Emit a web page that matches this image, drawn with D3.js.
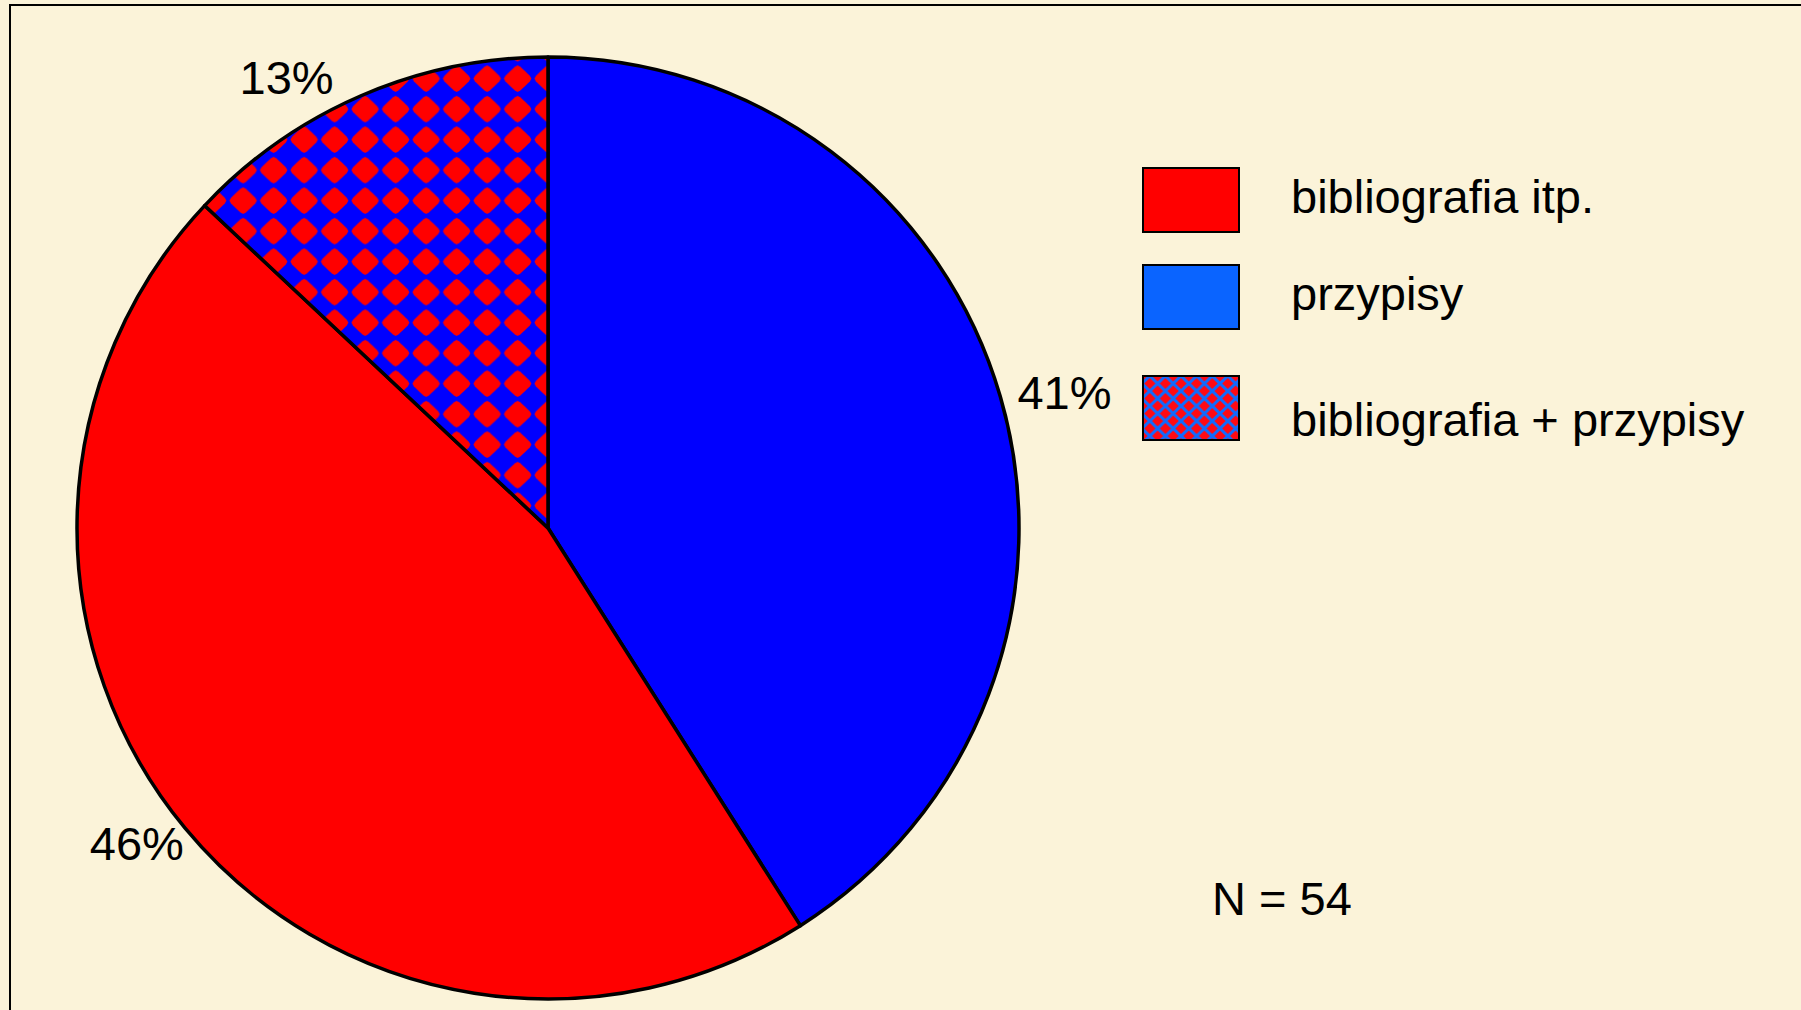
<!DOCTYPE html>
<html><head><meta charset="utf-8">
<script src="https://cdn.jsdelivr.net/npm/d3@7"></script>
<style>html,body{margin:0;padding:0;background:#FBF3D9;overflow:hidden}</style>
</head><body>
<svg id="chart" width="1801" height="1010"></svg>
<script>
// Data
const categories = ["bibliografia itp.", "przypisy", "bibliografia + przypisy"];
const percents = [46, 41, 13];
const pieOrder = ["przypisy", "bibliografia itp.", "bibliografia + przypisy"];
const sampleSize = 54;

const svg = d3.select("#chart");
const W = 1801, H = 1010;
svg.append("rect").attr("width", W).attr("height", H).attr("fill", "#FBF3D9");
svg.append("rect").attr("x", 10).attr("y", 5).attr("width", W + 20).attr("height", H + 20)
  .attr("fill", "none").attr("stroke", "#000").attr("stroke-width", 2);

const defs = svg.append("defs");
// pie pattern
const pw = 30.5;
const pp = defs.append("pattern").attr("id", "patPie").attr("patternUnits", "userSpaceOnUse")
  .attr("x", 15.4).attr("y", 23.4).attr("width", pw).attr("height", pw);
pp.append("rect").attr("width", pw).attr("height", pw).attr("fill", "#0000FF");
pp.append("path").attr("d", "M15.25,2 L18,3.5 L23,8 L27.5,12.5 L29,15.25 L27.5,18 L23,22.5 L18,27 L15.25,28.5 L12.5,27 L7.5,22.5 L3,18 L1.5,15.25 L3,12.5 L7.5,8 L12.5,3.5 Z").attr("fill", "#FF0000");
// legend pattern
const lw = 15.6, lh = 15, hd = 5.6;
const lp = defs.append("pattern").attr("id", "patLeg").attr("patternUnits", "userSpaceOnUse")
  .attr("x", 1142).attr("y", 376).attr("width", lw).attr("height", lh);
lp.append("rect").attr("width", lw).attr("height", lh).attr("fill", "#0F6BFF");
[[lw/2,lh/2],[0,0],[lw,0],[0,lh],[lw,lh]].forEach(([x,y]) => {
  lp.append("path").attr("d", `M${x},${y-hd} L${x+hd},${y} L${x},${y+hd} L${x-hd},${y} Z`).attr("fill", "#FF0A14");
});

const pieFill = { "przypisy": "#0000FF", "bibliografia itp.": "#FF0000", "bibliografia + przypisy": "url(#patPie)" };
const legFill = { "przypisy": "#0A64FF", "bibliografia itp.": "#FF0000", "bibliografia + przypisy": "url(#patLeg)" };

const cx = 548, cy = 528, R = 471;
const pieData = pieOrder.map(c => ({ cat: c, value: percents[categories.indexOf(c)] }));
const pie = d3.pie().sort(null).value(d => d.value);
const arcs = pie(pieData);
const arc = d3.arc().innerRadius(0).outerRadius(R);
const g = svg.append("g").attr("transform", `translate(${cx},${cy})`);
g.selectAll("path.slice").data(arcs).join("path").attr("class", "slice")
  .attr("d", arc).attr("fill", d => pieFill[d.data.cat])
  .attr("stroke", "#000").attr("stroke-width", 3.5).attr("stroke-linejoin", "round");

// label placement nudges (style)
const labelNudge = { "przypisy": [-3, 2], "bibliografia itp.": [23, 2], "bibliografia + przypisy": [-11, 1] };
const rl = 492;
g.selectAll("text.pct").data(arcs).join("text").attr("class", "pct")
  .each(function (d) {
    const a = (d.startAngle + d.endAngle) / 2;
    const x = rl * Math.sin(a), y = -rl * Math.cos(a);
    const n = labelNudge[d.data.cat];
    d3.select(this).attr("x", x + (Math.sin(a) < 0 ? -8 : 0) + n[0]).attr("y", y + n[1])
      .attr("text-anchor", Math.sin(a) < 0 ? "end" : "start");
  })
  .attr("dy", "0.35em")
  .attr("font-family", "Liberation Sans, Arial, sans-serif").attr("font-size", 47).attr("fill", "#000")
  .text(d => d.data.value + "%");

// legend
const boxY = { "bibliografia itp.": 168, "przypisy": 265, "bibliografia + przypisy": 376 };
const textY = { "bibliografia itp.": 213, "przypisy": 310, "bibliografia + przypisy": 436 };
const lg = svg.append("g");
categories.forEach(c => {
  lg.append("rect").attr("x", 1143).attr("y", boxY[c]).attr("width", 96).attr("height", 64)
    .attr("fill", legFill[c]).attr("stroke", "#000").attr("stroke-width", 2);
  lg.append("text").attr("x", 1291).attr("y", textY[c])
    .attr("font-family", "Liberation Sans, Arial, sans-serif").attr("font-size", 47).attr("fill", "#000")
    .text(c);
});

svg.append("text").attr("x", 1212).attr("y", 915)
  .attr("font-family", "Liberation Sans, Arial, sans-serif").attr("font-size", 47).attr("fill", "#000")
  .text("N = " + sampleSize);
</script>
</body></html>
